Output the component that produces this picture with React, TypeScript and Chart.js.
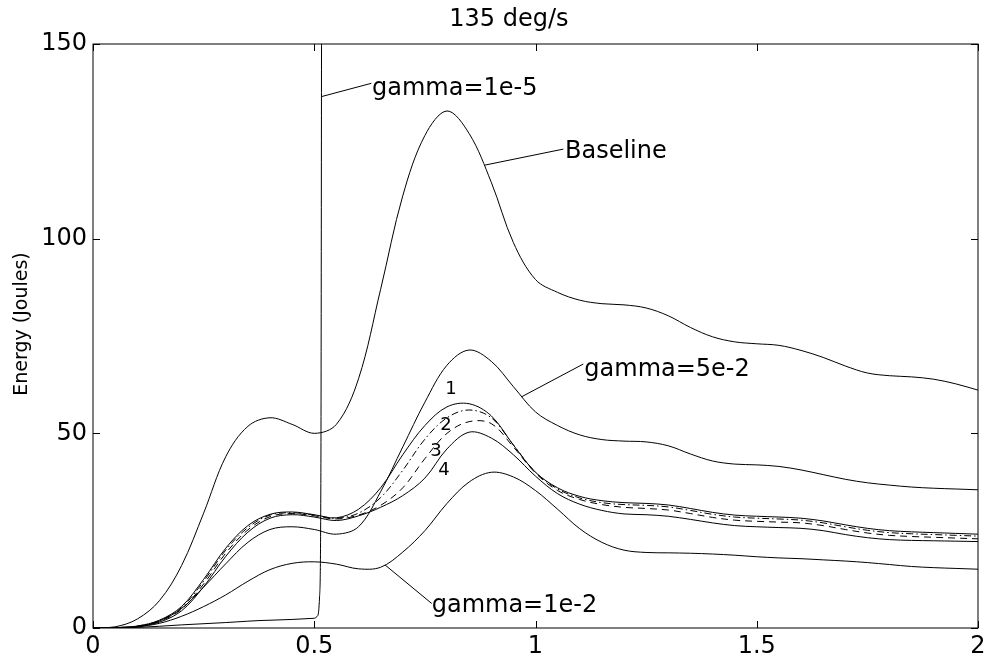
import React, { useEffect, useRef } from "react";
import { Chart, registerables } from "chart.js";

Chart.register(...registerables);

// ---- data (time in s, energy in Joules) ----
const timeGrid = [
  0, 0.05, 0.1, 0.15, 0.2, 0.25, 0.3, 0.35, 0.4, 0.45, 0.5, 0.55, 0.6, 0.65, 0.7, 0.75, 0.8, 0.85, 0.9, 0.95,
  1.0, 1.05, 1.1, 1.15, 1.2, 1.25, 1.3, 1.35, 1.4, 1.45, 1.5, 1.55, 1.6, 1.65, 1.7, 1.75, 1.8, 1.85, 1.9, 1.95, 2.0,
];

const baseline = [
  0, 0.3, 2.3, 7, 16, 29.5, 44, 51.8, 54, 52.3, 50, 52.3, 64, 87, 111, 126.5, 132.8, 127, 114.5, 99,
  89.5, 86.2, 84.2, 83.3, 83, 82.2, 80.2, 77.2, 74.8, 73.5, 73, 72.6, 71.3, 69.5, 67.3, 65.5, 64.8, 64.5, 63.9, 62.7, 61.1,
];

const gamma5e2 = [
  0, 0.05, 0.3, 1.8, 5, 10.5, 16.5, 22, 25.3, 26, 25.3, 24.1, 26, 35, 46.5, 58, 67.5, 71.4, 68.5, 62,
  55.5, 52, 49.6, 48.4, 48, 47.8, 46.8, 44.7, 42.9, 42.1, 41.9, 41.5, 40.6, 39.4, 38.2, 37.3, 36.7, 36.2, 35.9, 35.7, 35.5,
];

const gamma1e2 = [
  0, 0, 0.3, 1.2, 3, 5.5, 8.5, 12, 15, 16.6, 17, 16.4, 15.2, 15.6, 19.5, 25, 32, 37.5, 40, 38.8,
  35.3, 30.5, 25.5, 22, 20, 19.4, 19.3, 19.2, 19, 18.7, 18.3, 18, 17.8, 17.5, 17.2, 16.8, 16.3, 15.8, 15.5, 15.3, 15.1,
];

const curve1 = [
  0, 0.1, 0.5, 2, 5.5, 12.5, 20.5, 26.3, 29.2, 29.8, 29.1, 28.3, 30.5, 36, 44.5, 52, 56.8, 57.6, 54.5, 47,
  40, 36, 33.8, 32.7, 32.2, 32, 31.6, 30.7, 29.7, 29, 28.7, 28.5, 28.2, 27.5, 26.5, 25.6, 25, 24.7, 24.5, 24.3, 24.1,
];

const curve2 = [
  0, 0.1, 0.5, 1.9, 5.2, 12, 20, 25.8, 29, 29.6, 29, 28.2, 29.5, 33.5, 40.5, 48.5, 54, 56, 54, 47,
  40, 35.7, 33.4, 32.2, 31.7, 31.5, 31.1, 30.2, 29.2, 28.5, 28.2, 28, 27.7, 27, 26, 25.1, 24.5, 24.2, 24, 23.8, 23.6,
];

const curve3 = [
  0, 0.1, 0.4, 1.7, 4.8, 11.3, 19.2, 25.2, 28.6, 29.4, 28.8, 28, 29, 31.5, 36, 43.5, 50, 53, 52.5, 46.5,
  39.8, 35.3, 33, 31.7, 31, 30.7, 30.3, 29.4, 28.4, 27.7, 27.4, 27.2, 27, 26.3, 25.3, 24.4, 23.8, 23.5, 23.3, 23.1, 22.9,
];

const curve4 = [
  0, 0.1, 0.4, 1.5, 4.4, 10.6, 18.4, 24.6, 28.2, 29.1, 28.5, 27.6, 28.8, 31, 34, 38.5, 46, 50.3, 48.8, 44.5,
  39, 34.5, 31.8, 30.2, 29.3, 29.1, 28.7, 27.9, 27, 26.3, 26, 25.8, 25.6, 25, 24, 23.2, 22.7, 22.5, 22.4, 22.3, 22.2,
];

const gamma1e5Time = [0, 0.1, 0.2, 0.3, 0.4, 0.5, 0.508, 0.512, 0.515, 0.517];
const gamma1e5 = [0, 0.15, 0.8, 1.4, 2.0, 2.5, 3.2, 8, 40, 200];

const xTicks = [0, 0.5, 1, 1.5, 2];
const yTicks = [0, 50, 100, 150];

const titleText = "135 deg/s";
const yAxisTitle = "Energy (Joules)";

// text labels with leader lines (data coordinates)
const labelTexts = ["gamma=1e-5", "Baseline", "gamma=5e-2", "gamma=1e-2"];
const labelAt = [
  [0.6306, 137.0],
  [1.0667, 120.7],
  [1.1103, 64.7],
  [0.7654, 4.2],
];
const leaderFrom = [
  [0.5168, 136.5],
  [0.8859, 118.9],
  [0.9688, 59.4],
  [0.6599, 16.2],
];
const leaderTo = [
  [0.6289, 139.9],
  [1.0628, 123.0],
  [1.108, 67.8],
  [0.7654, 6.3],
];
const numberTexts = ["1", "2", "3", "4"];
const numberAt = [
  [0.809, 61.4],
  [0.7977, 52.1],
  [0.7751, 45.4],
  [0.7932, 40.6],
];

const FONT = '"DejaVu Sans", "Liberation Sans", sans-serif';

const toPoints = (xs: number[], ys: number[]) => xs.map((x, i) => ({ x, y: ys[i] }));

const framePlugin = {
  id: "matlabFrame",
  afterDatasetsDraw(chart: any) {
    const { ctx, chartArea: a, scales } = chart;
    const sx = scales.x;
    const sy = scales.y;
    ctx.save();
    ctx.strokeStyle = "#000";
    ctx.fillStyle = "#000";
    ctx.lineWidth = 1;
    // box
    ctx.strokeRect(a.left, a.top, a.right - a.left, a.bottom - a.top);
    // inward ticks
    const tl = 7;
    ctx.beginPath();
    xTicks.forEach((v) => {
      const p = Math.round(sx.getPixelForValue(v)) + 0.5;
      ctx.moveTo(p, a.bottom);
      ctx.lineTo(p, a.bottom - tl);
      ctx.moveTo(p, a.top);
      ctx.lineTo(p, a.top + tl);
    });
    yTicks.forEach((v) => {
      const p = Math.round(sy.getPixelForValue(v)) + 0.5;
      ctx.moveTo(a.left, p);
      ctx.lineTo(a.left + tl, p);
      ctx.moveTo(a.right, p);
      ctx.lineTo(a.right - tl, p);
    });
    ctx.stroke();

    // leader lines
    ctx.beginPath();
    leaderFrom.forEach((f, i) => {
      const t = leaderTo[i];
      ctx.moveTo(sx.getPixelForValue(f[0]), sy.getPixelForValue(f[1]));
      ctx.lineTo(sx.getPixelForValue(t[0]), sy.getPixelForValue(t[1]));
    });
    ctx.stroke();

    // labels
    ctx.font = `24px ${FONT}`;
    ctx.textAlign = "left";
    ctx.textBaseline = "alphabetic";
    labelTexts.forEach((txt, i) => {
      ctx.fillText(txt, sx.getPixelForValue(labelAt[i][0]), sy.getPixelForValue(labelAt[i][1]));
    });
    ctx.font = `18px ${FONT}`;
    ctx.textAlign = "center";
    ctx.textBaseline = "middle";
    numberTexts.forEach((txt, i) => {
      ctx.fillText(txt, sx.getPixelForValue(numberAt[i][0]), sy.getPixelForValue(numberAt[i][1]));
    });

    // title
    ctx.font = `24px ${FONT}`;
    ctx.textAlign = "center";
    ctx.textBaseline = "alphabetic";
    ctx.fillText(titleText, a.left + (a.right - a.left) * 0.47, a.top - 18);

    // y axis title
    ctx.save();
    ctx.translate(22, (a.top + a.bottom) / 2 - 12);
    ctx.rotate(-Math.PI / 2);
    ctx.font = `19px ${FONT}`;
    ctx.textAlign = "center";
    ctx.textBaseline = "middle";
    ctx.fillText(yAxisTitle, 0, 0);
    ctx.restore();

    ctx.restore();
  },
};

const lineStyle = {
  borderColor: "#000",
  borderWidth: 1,
  pointRadius: 0,
  fill: false,
  tension: 0.35,
};

export default function App() {
  const canvasRef = useRef<HTMLCanvasElement | null>(null);

  useEffect(() => {
    if (!canvasRef.current) return;
    const chart = new Chart(canvasRef.current, {
      type: "line",
      data: {
        datasets: [
          { label: "Baseline", data: toPoints(timeGrid, baseline), ...lineStyle },
          { label: "gamma=5e-2", data: toPoints(timeGrid, gamma5e2), ...lineStyle },
          { label: "1", data: toPoints(timeGrid, curve1), ...lineStyle },
          { label: "2", data: toPoints(timeGrid, curve2), ...lineStyle, borderDash: [7, 3, 1.5, 3] },
          { label: "3", data: toPoints(timeGrid, curve3), ...lineStyle, borderDash: [7, 5] },
          { label: "4", data: toPoints(timeGrid, curve4), ...lineStyle },
          { label: "gamma=1e-2", data: toPoints(timeGrid, gamma1e2), ...lineStyle },
          {
            label: "gamma=1e-5",
            data: toPoints(gamma1e5Time, gamma1e5),
            ...lineStyle,
            tension: 0,
            cubicInterpolationMode: "monotone" as const,
          },
        ],
      },
      options: {
        animation: false,
        responsive: false,
        maintainAspectRatio: false,
        layout: { padding: { left: 0, top: 44, right: 12, bottom: 0 } },
        plugins: {
          legend: { display: false },
          tooltip: { enabled: false },
          title: { display: false },
        },
        scales: {
          x: {
            type: "linear",
            min: 0,
            max: 2,
            grid: { display: false, drawTicks: false },
            border: { display: false },
            ticks: {
              stepSize: 0.5,
              color: "#000",
              font: { family: FONT, size: 24 },
              padding: 4,
              maxRotation: 0,
              callback: (v: any) => String(Number(v)),
            },
            afterFit(s: any) {
              s.height = 34;
              s.paddingLeft = 0;
              s.paddingRight = 0;
            },
          },
          y: {
            type: "linear",
            min: 0,
            max: 150,
            grid: { display: false, drawTicks: false },
            border: { display: false },
            ticks: {
              stepSize: 50,
              color: "#000",
              font: { family: FONT, size: 24 },
              padding: 6,
            },
            afterFit(s: any) {
              s.width = 93;
              s.paddingTop = 0;
              s.paddingBottom = 0;
            },
          },
        },
      },
      plugins: [framePlugin],
    });
    return () => chart.destroy();
  }, []);

  return (
    <div style={{ position: "absolute", left: 0, top: 0, width: 990, height: 662, background: "#fff" }}>
      <canvas ref={canvasRef} width={990} height={662} style={{ display: "block" }} />
    </div>
  );
}
